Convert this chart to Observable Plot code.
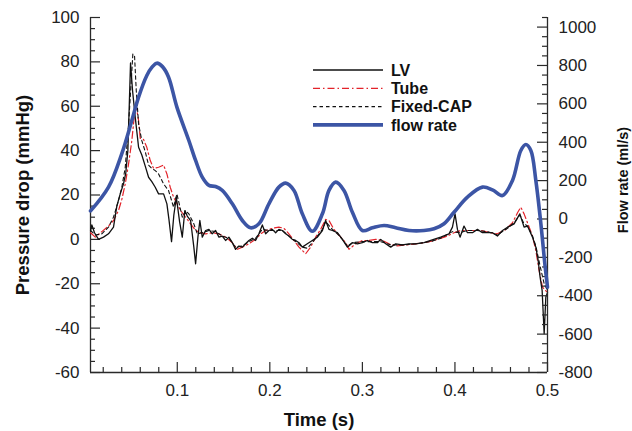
<!DOCTYPE html>
<html>
<head>
<meta charset="utf-8">
<script src="https://cdn.jsdelivr.net/npm/d3@7"></script>
<script src="https://cdn.jsdelivr.net/npm/@observablehq/plot@0.6"></script>
<style>
  html, body { margin: 0; padding: 0; background: #fff; }
  #chart { position: relative; width: 632px; height: 431px; font-family: "Liberation Sans", Arial, Helvetica, sans-serif; }
  #chart > svg { position: absolute; left: 0; top: 0; }
</style>
</head>
<body>
<div id="chart"></div>
<script>
// ---- Series: pressure drop (mmHg) over one cycle ----
const lvTime = [0.0063,0.0077,0.0106,0.0149,0.0203,0.0257,0.0311,0.0347,0.0384,0.0419,0.0444,0.0466,0.0481,0.0495,0.0517,0.0546,0.0582,0.0617,0.0654,0.0690,0.0725,0.0762,0.0798,0.0852,0.0888,0.0910,0.0938,0.0963,0.0990,0.1025,0.1054,0.1082,0.1108,0.1144,0.1179,0.1198,0.1223,0.1244,0.1270,0.1306,0.1342,0.1378,0.1414,0.1450,0.1486,0.1522,0.1558,0.1595,0.1630,0.1666,0.1703,0.1738,0.1774,0.1811,0.1846,0.1882,0.1919,0.1955,0.1990,0.2027,0.2063,0.2098,0.2135,0.2171,0.2206,0.2243,0.2279,0.2315,0.2351,0.2405,0.2459,0.2514,0.2568,0.2603,0.2639,0.2676,0.2730,0.2784,0.2838,0.2892,0.2946,0.3000,0.3054,0.3108,0.3162,0.3198,0.3252,0.3306,0.3360,0.3432,0.3504,0.3576,0.3666,0.3738,0.3846,0.3936,0.3973,0.4001,0.4027,0.4055,0.4098,0.4135,0.4189,0.4243,0.4297,0.4351,0.4405,0.4459,0.4514,0.4568,0.4639,0.4701,0.4747,0.4784,0.4838,0.4874,0.4899,0.4920,0.4942,0.4964,0.4982,0.5000];
const lvPressure = [4,6.5,3,0,1,2.5,5.5,15,20.5,25,30,40,60,79.5,67,55,41.5,38,33,28,26,23.5,20.5,20.5,16,9,-1,11,19,8,1,13,10.5,8.5,-3.5,-11,1,8.5,1,4,4.5,2.5,4,1,1.5,-0.5,1,-1.5,-4.5,-3,-3.5,-2,-0.5,0.5,-0.5,2.5,6.5,2.5,4,4.5,3,4.5,4,2.5,1.5,0,-0.5,-1.5,-3.5,-2,-0.5,1,4,8.5,4.5,4,3,0,-3.5,-1.5,-2,-1.5,-0.5,-1.5,-1.5,0,-2,-3.5,-2,-2.5,-2,-2,-1.5,-0.5,1,2.5,5.5,11.5,4.5,1,6,3,3,4.5,3,3,3,1.5,4,5.5,7,11.5,5.5,6,1,-3.5,-9.5,-17,-23,-42.5,-26,-24];

const tubeTime = [0.0063,0.0114,0.0185,0.0257,0.0311,0.0365,0.0401,0.0438,0.0474,0.0509,0.0538,0.0557,0.0582,0.0600,0.0636,0.0671,0.0708,0.0744,0.0798,0.0852,0.0888,0.0924,0.0960,0.1036,0.1090,0.1144,0.1198,0.1252,0.1306,0.1378,0.1450,0.1522,0.1595,0.1649,0.1703,0.1774,0.1846,0.1901,0.1955,0.2027,0.2098,0.2152,0.2206,0.2261,0.2315,0.2387,0.2441,0.2495,0.2549,0.2603,0.2639,0.2693,0.2766,0.2820,0.2855,0.2928,0.3000,0.3071,0.3144,0.3216,0.3288,0.3360,0.3468,0.3576,0.3666,0.3774,0.3919,0.3990,0.4063,0.4171,0.4279,0.4387,0.4459,0.4549,0.4622,0.4676,0.4711,0.4747,0.4784,0.4838,0.4874,0.4909,0.4946,0.5000];
const tubePressure = [3,1,3.5,6,8.5,13,18,25,34,44.5,56.5,60,53.5,45.5,45,41.5,35.5,32,32.5,33.5,29.5,23.5,19,13,10,7,4,3,2.5,3,2.5,1,-1.5,-4.5,-3.5,-2,0,2.5,4,5,5.5,5,2.5,-0.5,-3.5,-6.5,-3.5,1,4.5,9,8.5,4.5,1,-1.5,-4.5,-2,-0.5,-0.5,0,-0.5,-2,-3,-2.5,-2,-1.5,-0.5,1.5,3,4,4,4,3,2.5,4.5,7.5,12,14.5,11.5,7.5,1.5,-5,-14,-21.5,-24];

const capTime = [0.0063,0.0114,0.0185,0.0257,0.0311,0.0365,0.0401,0.0438,0.0474,0.0503,0.0520,0.0538,0.0557,0.0582,0.0617,0.0654,0.0690,0.0725,0.0762,0.0798,0.0852,0.0906,0.0960,0.0996,0.1054,0.1090,0.1125,0.1179,0.1216,0.1270,0.1342,0.1414,0.1486,0.1558,0.1630,0.1703,0.1774,0.1846,0.1919,0.1990,0.2063,0.2135,0.2206,0.2279,0.2351,0.2405,0.2459,0.2514,0.2568,0.2603,0.2676,0.2730,0.2784,0.2838,0.2892,0.3000,0.3108,0.3198,0.3306,0.3432,0.3576,0.3738,0.3846,0.3973,0.4055,0.4135,0.4243,0.4351,0.4459,0.4568,0.4639,0.4701,0.4747,0.4784,0.4838,0.4874,0.4920,0.4964,0.5000];
const capPressure = [4,2,2.5,5.5,10,17.5,23.5,32.5,52,71.5,83.5,83,67,52,44.5,39.5,33.5,32,31,29.5,25,22,14.5,20.5,10,13,11.5,7,2.5,3,4,3.5,1.5,0.5,-3.5,-3,-1,0.5,4.5,4,4,4,1.5,-1,-3.5,-4,-1.5,1.5,4.5,8,4.5,2.5,0,-3,-1.5,-1,-1,-1,-2.5,-2.5,-2,-1,0.5,3.5,3,4,4,3.5,2,5,7.5,11,7,6,1.5,-3,-12,-20,-23];

// ---- Series: flow rate (ml/s) ----
const flowTime = [0.0063,0.0257,0.0401,0.0509,0.0582,0.0671,0.0725,0.0779,0.0840,0.0906,0.0996,0.1125,0.1198,0.1270,0.1342,0.1414,0.1486,0.1595,0.1703,0.1792,0.1882,0.1990,0.2098,0.2171,0.2261,0.2351,0.2459,0.2568,0.2639,0.2711,0.2801,0.2892,0.3000,0.3108,0.3234,0.3360,0.3504,0.3666,0.3774,0.3882,0.3990,0.4135,0.4297,0.4405,0.4514,0.4622,0.4712,0.4766,0.4820,0.4874,0.4928,0.4971,0.5000];
const flowRate = [42,166,341,513,635,748,790,812,794,739,583,409,305,218,175,169,149,79,-8,-46,-25,79,166,187,149,27,-64,27,149,192,149,35,-60,-46,-34,-46,-60,-60,-51,-25,35,114,166,152,122,201,357,388,357,201,-23,-233,-355];

// ---- Axes ----
const timeDomain = [0.00625, 0.5];
const pressureDomain = [-60, 100];
const flowDomain = [-800, 1050];
const timeTicks = [0.1, 0.2, 0.3, 0.4, 0.5];
const timeMinor = [0.02,0.04,0.06,0.08,0.12,0.14,0.16,0.18,0.22,0.24,0.26,0.28,0.32,0.34,0.36,0.38,0.42,0.44,0.46,0.48];
const pressureTicks = [-60, -40, -20, 0, 20, 40, 60, 80, 100];
const pressureMinor = [-55,-50,-45,-35,-30,-25,-15,-10,-5,5,10,15,25,30,35,45,50,55,65,70,75,85,90,95];
const flowTicks = [-800, -600, -400, -200, 0, 200, 400, 600, 800, 1000];
const flowMinor = [-750,-700,-650,-550,-500,-450,-350,-300,-250,-150,-100,-50,50,100,150,250,300,350,450,500,550,650,700,750,850,900,950,1050];

const seriesNames = ["LV", "Tube", "Fixed-CAP", "flow rate"];
const xTitle = "Time (s)";
const yTitle = "Pressure drop (mmHg)";
const y2Title = "Flow rate (ml/s)";

// ---- Styling ----
const W = 632, H = 431;
const M = {top: 17, right: 85, bottom: 59, left: 90};
const plotW = W - M.left - M.right;
const plotH = H - M.top - M.bottom;
const axisColor = "#2a2a2a";
const red = "#e3232a";
const blue = "#3c55a5";
const font = "'Liberation Sans', Arial, Helvetica, sans-serif";
const tickFont = 17;
const style = {fontFamily: font, fontSize: tickFont + "px", color: "#222", background: "transparent", overflow: "visible"};
const titleText = {textAnchor: "middle", lineAnchor: "middle", fontWeight: "bold", fill: "#111"};

const rows = (ts, vs) => ts.map((t, i) => ({t, v: vs[i]}));
const lv = rows(lvTime, lvPressure);
const tube = rows(tubeTime, tubePressure);
const cap = rows(capTime, capPressure);
const flow = rows(flowTime, flowRate);

// Pressure panel: left axis, bottom axis and the three pressure curves
const pressurePlot = Plot.plot({
  width: W, height: H,
  marginTop: M.top, marginRight: M.right, marginBottom: M.bottom, marginLeft: M.left,
  style,
  x: {domain: timeDomain},
  y: {domain: pressureDomain},
  marks: [
    Plot.ruleX([timeDomain[0]], {stroke: axisColor, strokeWidth: 1.3}),
    Plot.ruleY([pressureDomain[0]], {stroke: axisColor, strokeWidth: 1.3}),
    Plot.tickY(pressureMinor, {y: d => d, insetRight: plotW - 5, stroke: axisColor, strokeWidth: 1.2}),
    Plot.tickY(pressureTicks, {y: d => d, insetRight: plotW - 10, stroke: axisColor, strokeWidth: 1.2}),
    Plot.tickX(timeMinor, {x: d => d, insetTop: plotH - 5, stroke: axisColor, strokeWidth: 1.2}),
    Plot.tickX(timeTicks, {x: d => d, insetTop: plotH - 10, stroke: axisColor, strokeWidth: 1.2}),
    Plot.axisY({ticks: pressureTicks, tickSize: 0, tickPadding: 11, label: null, tickFormat: d => String(d), fontSize: tickFont}),
    Plot.axisX({ticks: timeTicks, tickSize: 0, tickPadding: 11, label: null, tickFormat: d => String(d), fontSize: tickFont}),
    Plot.text([yTitle], {...titleText, text: d => d, frameAnchor: "left", dx: -67, rotate: -90, fontSize: 18.5}),
    Plot.text([xTitle], {...titleText, text: d => d, frameAnchor: "bottom", dy: 48, fontSize: 18.5}),
    Plot.line(tube, {x: "t", y: "v", stroke: red, strokeWidth: 1.2, strokeDasharray: "7,3,1.5,3"}),
    Plot.line(cap, {x: "t", y: "v", stroke: "#111", strokeWidth: 1.1, strokeDasharray: "3.5,3"}),
    Plot.line(lv, {x: "t", y: "v", stroke: "#111", strokeWidth: 1.3})
  ]
});

// Flow panel: right axis and the flow-rate curve, drawn over the pressure panel
const flowPlot = Plot.plot({
  width: W, height: H,
  marginTop: M.top, marginRight: M.right, marginBottom: M.bottom, marginLeft: M.left,
  style,
  x: {domain: timeDomain, axis: null},
  y: {domain: flowDomain, axis: null},
  marks: [
    Plot.ruleX([timeDomain[1]], {stroke: axisColor, strokeWidth: 1.3}),
    Plot.tickY(flowMinor, {y: d => d, insetLeft: plotW - 5, stroke: axisColor, strokeWidth: 1.2}),
    Plot.tickY(flowTicks, {y: d => d, insetLeft: plotW - 10, stroke: axisColor, strokeWidth: 1.2}),
    Plot.axisY({anchor: "right", ticks: flowTicks, tickSize: 0, tickPadding: 11, label: null, tickFormat: d => String(d), fontSize: tickFont}),
    Plot.text([y2Title], {...titleText, text: d => d, frameAnchor: "right", dx: 76, dy: -15, rotate: -90, fontSize: 14.5}),
    Plot.line(flow, {x: "t", y: "v", stroke: blue, strokeWidth: 3.6, curve: "catmull-rom"})
  ]
});

const chart = document.getElementById("chart");
chart.appendChild(pressurePlot);
chart.appendChild(flowPlot);

// Legend inside the plotting area
const legendStyles = [
  {stroke: "#111", width: 1.3, dash: null},
  {stroke: red, width: 1.2, dash: "7,3,1.5,3"},
  {stroke: "#111", width: 1.1, dash: "3.5,3"},
  {stroke: blue, width: 3.6, dash: null}
];
const legend = d3.create("svg").attr("width", W).attr("height", H);
const g = legend.append("g").attr("transform", "translate(313,70)");
seriesNames.forEach((name, i) => {
  const row = g.append("g").attr("transform", `translate(0,${i * 18.3})`);
  row.append("line").attr("x1", 0).attr("x2", 70).attr("y1", 0).attr("y2", 0)
    .attr("stroke", legendStyles[i].stroke).attr("stroke-width", legendStyles[i].width)
    .attr("stroke-dasharray", legendStyles[i].dash);
  row.append("text").attr("x", 78).attr("y", 0).attr("dy", "0.35em")
    .attr("font-family", font).attr("font-weight", "bold").attr("font-size", 16)
    .attr("fill", "#111").text(name);
});
chart.appendChild(legend.node());
</script>
</body>
</html>
